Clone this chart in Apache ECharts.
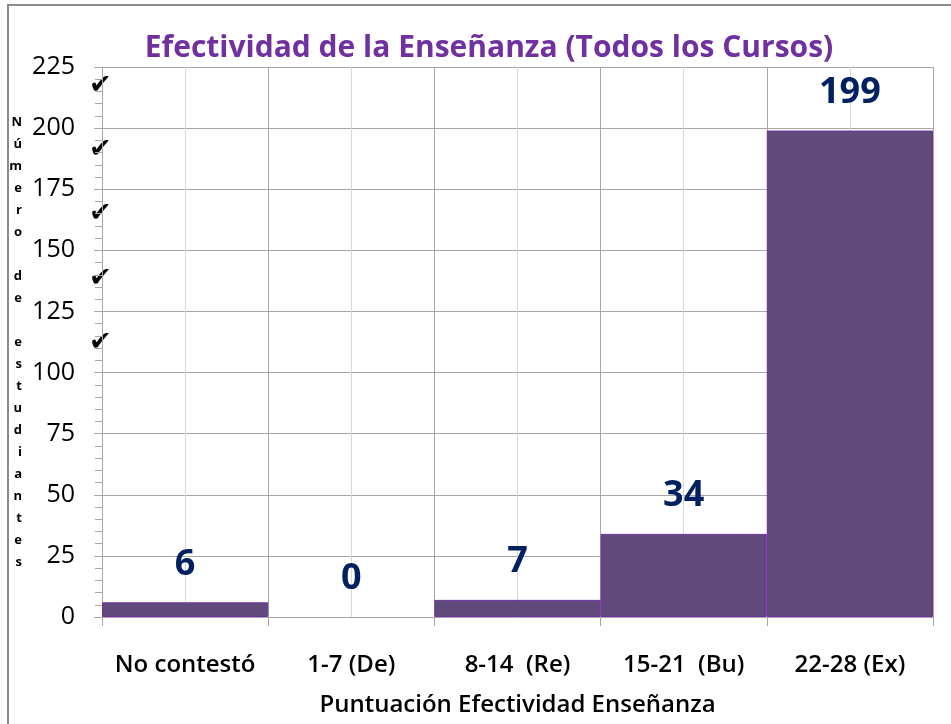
<!DOCTYPE html>
<html>
<head>
<meta charset="utf-8">
<script src="https://cdn.jsdelivr.net/npm/echarts@6/dist/echarts.min.js"></script>
<style>
  html, body { margin: 0; padding: 0; background: #fff; }
  #main { width: 951px; height: 724px; }
</style>
</head>
<body>
<div id="main"></div>
<script>
// datos del grafico
var categorias = ['No contestó', '1-7 (De)', '8-14  (Re)', '15-21  (Bu)', '22-28 (Ex)'];
var valores = [6, 0, 7, 34, 199];
var mitades = ['a', 'b', 'c', 'd', 'e', 'f', 'g', 'h', 'i', 'j'];
var nombreY = 'Número de estudiantes';
var checkY = [88, 152, 216, 281, 345];

var myChart = echarts.init(document.getElementById('main'));

var gris = '#a6a6a6';
var fuente = '"Open Sans", sans-serif';

var graficos = [
  // marco
  { type: 'polyline', shape: { points: [[8, 724], [8, 5], [951, 5]] }, style: { stroke: '#8c8c8c', lineWidth: 2, fill: null } }
];
checkY.forEach(function (y) {
  graficos.push({
    type: 'text', left: 89, top: y - 16,
    style: { text: '✔', font: '27px "DejaVu Sans"', fill: '#000' }
  });
});

myChart.setOption({
  animation: false,
  title: {
    text: 'Efectividad de la Enseñanza (Todos los Cursos)',
    left: 484, top: 28, textAlign: 'center',
    textStyle: { color: '#7030a0', fontFamily: fuente, fontSize: 30, fontWeight: 'bold' }
  },
  grid: { left: 102, right: 18, top: 67, bottom: 107, outerBoundsMode: 'none', containLabel: false },
  xAxis: [
    {
      type: 'category',
      data: categorias,
      z: 1,
      axisLine: { lineStyle: { color: gris } },
      axisTick: { show: true, interval: 0, length: 9, lineStyle: { color: gris } },
      axisLabel: { interval: 0, margin: 36, color: '#000', fontFamily: fuente, fontSize: 24, fontWeight: 600 },
      splitLine: { show: true, interval: 0, lineStyle: { color: gris } },
      name: 'Puntuación Efectividad Enseñanza',
      nameLocation: 'middle',
      nameGap: 76,
      nameTextStyle: { color: '#000', fontFamily: fuente, fontSize: 24, fontWeight: 600 }
    },
    {
      type: 'category',
      data: mitades,
      position: 'bottom',
      z: 0,
      axisLine: { show: false },
      axisTick: { show: false },
      axisLabel: { show: false },
      splitLine: { show: true, interval: 0, lineStyle: { color: '#d9d9d9' } }
    }
  ],
  yAxis: {
    type: 'value',
    min: 0, max: 225, interval: 25,
    axisLine: { show: true, lineStyle: { color: gris } },
    axisTick: { show: true, length: 8, lineStyle: { color: gris } },
    minorTick: { show: true, splitNumber: 5, length: 7, lineStyle: { color: gris } },
    axisLabel: { margin: 27, color: '#000', fontFamily: fuente, fontSize: 25 },
    splitLine: { show: true, lineStyle: { color: gris } },
    name: nombreY.split('').join('\n'),
    nameLocation: 'middle',
    nameRotate: 0,
    nameGap: 80,
    nameTextStyle: { color: '#000', fontFamily: fuente, fontSize: 13, fontWeight: 'bold', lineHeight: 22 }
  },
  series: [{
    type: 'bar',
    data: valores.map(function (v) {
      return v === 0 ? { value: v, itemStyle: { borderWidth: 0 } } : v;
    }),
    barCategoryGap: 0,
    z: 3,
    itemStyle: { color: '#604a7b', borderColor: '#7030a0', borderWidth: 1 },
    label: {
      show: true, position: 'top', distance: 20,
      color: '#002060', fontFamily: fuente, fontSize: 36, fontWeight: 'bold'
    }
  }],
  graphic: graficos
});
</script>
</body>
</html>
